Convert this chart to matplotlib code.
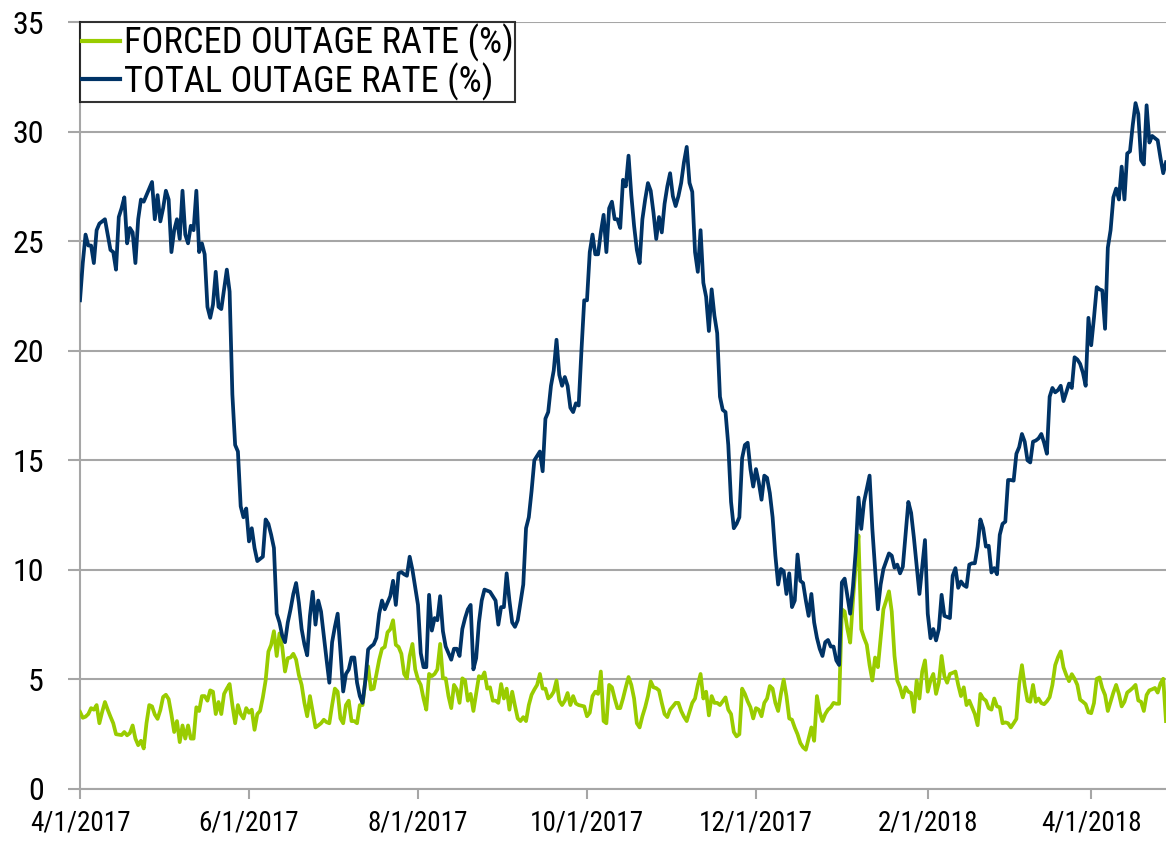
import matplotlib
matplotlib.use("Agg")
import matplotlib.pyplot as plt
import pandas as pd
from matplotlib import font_manager

# ---------------- data (daily, starting 4/1/2017) ----------------
start_date = "2017-04-01"
end_date = "2018-04-28"

forced_outage = [
    3.52, 3.25, 3.3, 3.42, 3.69, 3.62, 3.83, 3.0, 3.52, 3.97,
    3.62, 3.3, 3.0, 2.5, 2.48, 2.46, 2.6, 2.45, 2.55, 2.9,
    2.3, 2.0, 2.2, 1.85, 3.0, 3.83, 3.77, 3.4, 3.2, 3.6,
    4.2, 4.3, 4.1, 3.4, 2.6, 3.1, 2.14, 2.9, 2.3, 2.9,
    2.3, 2.3, 3.73, 3.56, 4.24, 4.24, 4.03, 4.5, 4.44, 3.42,
    3.97, 3.42, 4.34, 4.58, 4.79, 3.83, 3.0, 3.83, 3.42, 3.22,
    3.69, 3.48, 3.62, 2.7, 3.42, 3.56, 4.18, 4.95, 6.27, 6.58,
    7.2, 6.07, 7.1, 6.48, 5.36, 5.97, 6.0, 6.17, 5.9, 5.2,
    4.75, 3.93, 3.32, 4.24, 3.52, 2.81, 2.9, 3.0, 3.16, 3.05,
    3.0, 3.83, 4.58, 4.44, 3.22, 3.0, 3.83, 4.03, 3.1, 3.1,
    3.0, 3.83, 3.83, 4.95, 5.6, 4.54, 4.58, 5.25, 5.9, 6.4,
    6.48, 7.15, 7.29, 7.7, 6.58, 6.48, 6.17, 5.25, 5.05, 6.07,
    6.62, 5.46, 5.0, 4.75, 4.13, 3.62, 5.25, 5.15, 5.25, 5.46,
    6.62, 5.05, 5.05, 4.24, 3.69, 4.75, 4.54, 3.93, 5.05, 4.95,
    4.03, 4.34, 3.56, 4.34, 5.15, 5.05, 5.32, 4.58, 4.64, 4.03,
    4.03, 3.93, 4.79, 4.13, 4.58, 3.62, 4.44, 3.8, 3.22, 3.1,
    3.28, 3.1, 3.83, 4.3, 4.54, 4.75, 5.25, 4.58, 4.58, 4.13,
    4.24, 4.44, 4.95, 4.03, 3.83, 4.03, 4.38, 3.83, 4.24, 3.9,
    3.83, 3.8, 3.77, 3.32, 3.48, 4.24, 4.44, 4.34, 5.36, 3.1,
    3.0, 4.75, 4.64, 4.13, 3.69, 3.69, 4.13, 4.64, 5.11, 4.75,
    4.13, 3.0, 2.81, 3.32, 3.73, 4.24, 4.91, 4.64, 4.6, 4.5,
    3.93, 3.42, 3.28, 3.62, 3.77, 3.93, 3.93, 3.56, 3.3, 3.1,
    3.52, 3.93, 4.13, 4.75, 5.25, 4.13, 4.44, 3.36, 4.24, 3.93,
    3.93, 3.83, 4.0, 4.18, 3.62, 3.42, 2.6, 2.4, 2.5, 4.58,
    4.34, 4.0, 3.73, 3.22, 3.69, 3.62, 3.32, 3.93, 4.13, 4.7,
    4.58, 3.93, 3.56, 4.34, 4.99, 4.24, 3.22, 3.16, 2.8, 2.5,
    2.1, 1.9, 1.79, 2.3, 2.81, 2.2, 4.24, 3.52, 3.1, 3.42,
    3.62, 3.73, 3.93, 3.89, 3.89, 8.2, 8.1, 7.3, 6.68, 8.6,
    10.24, 11.57, 7.29, 6.9, 6.58, 5.66, 4.95, 6.0, 5.56, 6.88,
    8.2, 8.6, 9.02, 8.1, 6.07, 4.95, 4.64, 4.18, 4.64, 4.44,
    4.38, 3.52, 4.95, 4.13, 5.36, 5.87, 4.44, 4.95, 5.25, 4.34,
    4.85, 6.07, 5.15, 4.85, 5.25, 5.3, 5.36, 4.75, 4.24, 4.64,
    3.83, 4.03, 3.73, 3.42, 2.91, 4.34, 4.13, 4.03, 3.69, 3.62,
    4.13, 3.77, 3.73, 3.0, 3.04, 3.0, 2.81, 3.0, 3.2, 4.8,
    5.65, 4.71, 4.03, 3.98, 4.75, 3.98, 4.13, 3.92, 3.87, 4.0,
    4.19, 4.75, 5.65, 6.01, 6.28, 5.55, 5.2, 4.92, 5.24, 5.03,
    4.75, 4.08, 3.98, 3.87, 3.5, 3.46, 3.92, 5.03, 5.09, 4.6,
    4.29, 3.56, 3.98, 4.4, 4.75, 4.34, 3.77, 3.98, 4.4, 4.5,
    4.61, 4.75, 4.04, 3.98, 3.56, 4.29, 4.5, 4.55, 4.61, 4.4,
    4.82, 5.03, 3.1,
]

total_outage = [
    22.3, 24.0, 25.3, 24.8, 24.8, 24.0, 25.5, 25.8, 25.9, 26.0,
    25.3, 24.6, 24.5, 23.7, 26.1, 26.5, 27.0, 24.9, 25.6, 25.4,
    24.0, 26.0, 26.9, 26.8, 27.1, 27.4, 27.7, 26.0, 27.1, 25.9,
    26.5, 27.3, 26.9, 24.5, 25.5, 26.0, 25.1, 27.3, 25.3, 24.9,
    25.7, 25.5, 27.3, 24.5, 24.9, 24.4, 22.0, 21.5, 22.1, 23.6,
    22.0, 21.9, 22.8, 23.7, 22.7, 18.0, 15.7, 15.4, 12.9, 12.4,
    12.8, 11.3, 11.9, 11.0, 10.4, 10.5, 10.6, 12.3, 12.1, 11.6,
    11.0, 8.0, 7.6, 7.0, 6.7, 7.6, 8.2, 8.9, 9.4, 8.5,
    7.3, 6.6, 6.1, 7.9, 9.0, 7.5, 8.6, 8.1, 7.0, 5.9,
    4.85, 6.7, 7.4, 8.0, 6.3, 4.45, 5.25, 5.45, 6.0, 6.0,
    4.85, 4.24, 3.93, 4.95, 6.37, 6.5, 6.6, 6.9, 8.0, 8.6,
    8.2, 8.5, 8.8, 9.5, 8.4, 9.84, 9.9, 9.8, 9.73, 10.6,
    10.0, 9.2, 8.4, 6.2, 5.56, 5.56, 8.86, 7.23, 7.8, 7.7,
    8.8, 7.2, 6.5, 6.2, 5.9, 6.4, 6.4, 6.07, 7.3, 7.8,
    8.2, 8.4, 5.46, 5.97, 7.6, 8.6, 9.1, 9.05, 9.0, 8.8,
    8.6, 7.5, 8.3, 8.3, 9.84, 8.6, 7.6, 7.4, 7.7, 8.5,
    9.33, 11.9, 12.4, 13.6, 15.0, 15.2, 15.4, 14.5, 16.9, 17.2,
    18.4, 19.1, 20.5, 18.9, 18.4, 18.8, 18.4, 17.4, 17.2, 17.6,
    17.5, 20.0, 22.3, 22.3, 24.5, 25.3, 24.4, 24.4, 25.4, 26.2,
    24.5, 26.5, 26.8, 26.0, 26.0, 25.6, 27.8, 27.5, 28.9, 27.1,
    25.7, 24.6, 24.0, 26.0, 26.9, 27.65, 27.3, 26.3, 25.1, 26.1,
    25.4, 26.7, 27.5, 28.1, 27.05, 26.6, 27.05, 27.66, 28.6, 29.3,
    27.66, 27.25, 24.5, 23.6, 25.5, 23.1, 22.46, 20.9, 22.8, 21.6,
    20.8, 17.9, 17.3, 17.2, 15.7, 13.1, 11.9, 12.1, 12.4, 15.1,
    15.7, 15.8, 14.6, 13.8, 14.6, 14.0, 13.2, 14.3, 14.2, 13.5,
    12.4, 10.65, 9.33, 10.04, 9.94, 8.9, 9.84, 8.3, 8.6, 10.7,
    9.5, 9.4, 8.6, 7.9, 8.9, 7.6, 6.9, 6.4, 6.07, 6.7,
    6.8, 6.5, 6.5, 5.87, 5.66, 9.43, 9.6, 8.8, 8.0, 9.22,
    10.86, 13.3, 11.87, 13.1, 13.7, 14.3, 11.87, 10.04, 8.2, 9.33,
    10.04, 10.4, 10.75, 10.65, 10.1, 10.24, 9.84, 10.14, 11.6, 13.1,
    12.6, 11.47, 10.2, 8.9, 10.14, 11.36, 8.0, 6.88, 7.3, 6.78,
    7.3, 8.86, 7.9, 7.85, 7.8, 9.73, 10.08, 9.18, 9.47, 9.3,
    9.22, 10.24, 10.3, 10.3, 11.06, 12.3, 11.9, 11.06, 11.1, 9.88,
    10.08, 9.8, 11.6, 12.1, 12.2, 14.1, 14.1, 14.07, 15.3, 15.6,
    16.2, 15.85, 15.0, 14.9, 15.85, 15.9, 16.0, 16.2, 15.8, 15.3,
    17.9, 18.3, 18.1, 18.2, 18.4, 17.7, 18.1, 18.5, 18.3, 19.7,
    19.6, 19.4, 19.0, 18.4, 21.5, 20.25, 21.5, 22.9, 22.8, 22.75,
    21.0, 24.7, 25.5, 27.0, 27.4, 26.9, 28.4, 26.9, 29.0, 29.1,
    30.3, 31.3, 30.8, 28.7, 28.5, 31.2, 29.5, 29.8, 29.7, 29.6,
    28.8, 28.1, 28.6,
]

tick_dates = ["2017-04-01", "2017-06-01", "2017-08-01", "2017-10-01",
              "2017-12-01", "2018-02-01", "2018-04-01"]
tick_labels = ["4/1/2017", "6/1/2017", "8/1/2017", "10/1/2017",
               "12/1/2017", "2/1/2018", "4/1/2018"]
y_ticks = [0, 5, 10, 15, 20, 25, 30, 35]
series_labels = ["FORCED OUTAGE RATE (%)", "TOTAL OUTAGE RATE (%)"]

# ---------------- font choice: prefer a narrow sans ----------------
entries = font_manager.fontManager.ttflist
names = {f.name for f in entries}
stretch = "normal"
ysz, xsz, lsz = 24, 22, 25.5
if "Liberation Sans Narrow" in names or "Arial Narrow" in names:
    fam = ["Liberation Sans Narrow" if "Liberation Sans Narrow" in names
           else "Arial Narrow", "DejaVu Sans"]
else:
    cond = [f for f in entries
            if str(f.stretch) in ("condensed", "semi-condensed", "extra-condensed")
            and f.style == "normal"]
    pref = ["Roboto Condensed", "Open Sans Condensed", "Noto Sans", "Roboto",
            "Open Sans", "DejaVu Sans"]
    chosen = None
    for p in pref:
        for f in cond:
            if f.name == p:
                chosen = f
                break
        if chosen:
            break
    if chosen is not None:
        fam = [chosen.name, "DejaVu Sans"]
        stretch = chosen.stretch
        ysz, xsz, lsz = 23, 19.5, 26.3
    else:
        fam = ["Liberation Sans", "DejaVu Sans"]
        ysz, xsz, lsz = 20, 17, 21

plt.rcParams["font.family"] = fam
plt.rcParams["font.stretch"] = stretch

GREEN = "#99CC00"
NAVY = "#003366"
GRID = "#A6A6A6"

dates_f = pd.date_range(start_date, periods=len(forced_outage), freq="D")
dates_t = pd.date_range(start_date, periods=len(total_outage), freq="D")

fig = plt.figure(figsize=(11.66, 8.42), dpi=100)
ax = fig.add_axes([80 / 1166, 1 - 789 / 842, 1 - 80 / 1166, (789 - 22) / 842])

ax.plot(dates_f, forced_outage, color=GREEN, lw=2.7, label=series_labels[0],
        solid_joinstyle="round", zorder=3)
ax.plot(dates_t, total_outage, color=NAVY, lw=2.7, label=series_labels[1],
        solid_joinstyle="round", zorder=3)

ax.set_ylim(0, 35)
ax.set_yticks(y_ticks)
ax.set_yticklabels([str(v) for v in y_ticks])
ax.set_xlim(pd.Timestamp(start_date), pd.Timestamp(end_date))
ax.set_xticks(pd.to_datetime(tick_dates))
ax.set_xticklabels(tick_labels)

ax.grid(axis="y", color=GRID, lw=1.5, zorder=0)
ax.set_axisbelow(True)
for s in ["top", "right"]:
    ax.spines[s].set_visible(False)
for s in ["left", "bottom"]:
    ax.spines[s].set_color(GRID)
    ax.spines[s].set_linewidth(1.5)

ax.tick_params(axis="y", length=9, width=1.5, color=GRID, pad=17,
               labelsize=ysz, labelcolor="black")
ax.tick_params(axis="x", length=7, width=1.5, color=GRID, pad=8,
               labelsize=xsz, labelcolor="black")

leg = ax.legend(loc="upper left", bbox_to_anchor=(0.0, 1.0),
                fontsize=lsz,
                frameon=True, fancybox=False, edgecolor="black",
                handlelength=1.05, handletextpad=0.1, borderpad=0.05,
                labelspacing=0.0, borderaxespad=0.0)
leg.get_frame().set_linewidth(1.5)
for h in leg.get_lines():
    h.set_linewidth(3)

fig.savefig("out.png", dpi=100)
